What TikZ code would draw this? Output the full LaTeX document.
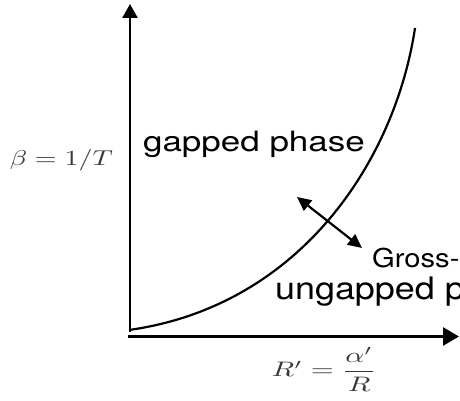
\documentclass[tikz,border=0pt]{standalone}
\usepackage{fontspec}
\usepackage{amsmath}
\usepackage{graphicx}
\usetikzlibrary{arrows.meta}
\newfontfamily\labfont[FakeStretch=1.12]{TeX Gyre Heros}
\newfontfamily\labwide[FakeStretch=1.25]{TeX Gyre Heros}
\newfontfamily\labmid[FakeStretch=1.16]{TeX Gyre Heros}
\tikzset{
  axisline/.style={line width=2.6pt},
  curveline/.style={line width=2.2pt},
  lab/.style={inner sep=0pt, text=black},
  mathlab/.style={inner sep=0pt, text=black!78},
}
\begin{document}
\begin{tikzpicture}[x=1pt,y=1pt]
\useasboundingbox (0,0) rectangle (460,401);
\clip (0,0) rectangle (460,401);
% coordinates
\coordinate (ybot) at (130,69);
\coordinate (ytop) at (130,397);
\coordinate (xleft) at (128,64.5);
\coordinate (xright) at (459,64.5);
\coordinate (cstart) at (129,71);
\coordinate (cend) at (415,373);
\coordinate (da) at (297,204);
\coordinate (db) at (362,153);
% axes
\draw[axisline,-{Triangle[length=14pt,width=15pt]}] (ybot) -- (ytop);
\draw[axisline,-{Triangle[length=16pt,width=18pt]}] (xleft) -- (xright);
% phase boundary
\draw[curveline] (cstart) .. controls (300,95) and (395,240) .. (cend);
% double arrow
\draw[curveline,{Triangle[length=14pt,width=13pt]}-{Triangle[length=14pt,width=13pt]}] (da) -- (db);
% labels
\node[lab, anchor=base west, font=\labwide\fontsize{28}{30}\selectfont] (gp) at (143,249) {gapped phase};
\node[lab, anchor=base west, font=\labfont\fontsize{26}{28}\selectfont] (gw) at (372,133) {Gross-};
\node[lab, anchor=base west, font=\labmid\fontsize{31}{34}\selectfont] (up) at (275,101) {ungapped p};
\node[mathlab, anchor=base east] (beta) at (113,235) {\scalebox{2.8}[2.15]{$\beta = 1/T$}};
\node[mathlab, anchor=base] (rp) at (324,24) {\scalebox{2.95}[2.1]{$R' = \dfrac{\alpha'}{R}$}};
\end{tikzpicture}
\end{document}
